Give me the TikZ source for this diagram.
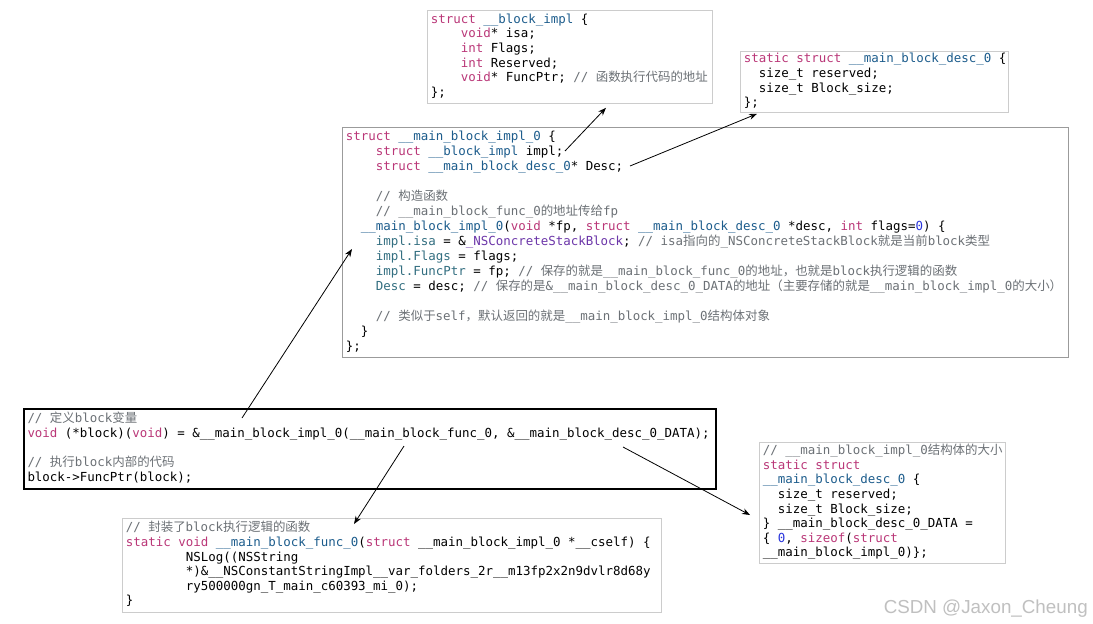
\documentclass[tikz,border=0pt]{standalone}
\usepackage{fontspec}
\usetikzlibrary{arrows.meta}
\newfontfamily\codefont{DejaVu Sans Mono}
\newfontfamily\zhfont{Noto Sans CJK SC}
\newfontfamily\markfont{Liberation Sans}
\definecolor{kwdpink}{RGB}{186,55,120}
\definecolor{typblue}{RGB}{28,92,140}
\definecolor{cmtgray}{RGB}{108,113,118}
\definecolor{mbrteal}{RGB}{50,110,128}
\definecolor{clspurple}{RGB}{108,54,169}
\definecolor{nmbblue}{RGB}{40,52,220}
\definecolor{boxgray}{RGB}{204,204,204}
\definecolor{mainborder}{RGB}{155,155,155}
\definecolor{markgray}{RGB}{192,192,192}
\newcommand\kwd[1]{\textcolor{kwdpink}{#1}}
\newcommand\typ[1]{\textcolor{typblue}{#1}}
\newcommand\cmt[1]{\textcolor{cmtgray}{#1}}
\newcommand\mbr[1]{\textcolor{mbrteal}{#1}}
\newcommand\cls[1]{\textcolor{clspurple}{#1}}
\newcommand\nmb[1]{\textcolor{nmbblue}{#1}}
\newcommand\zh[1]{\smash{\zhfont #1}}
\newcommand\twosp{\hphantom{xx}}
\newcommand\foursp{\hphantom{xxxx}}
\newcommand\eightsp{\hphantom{xxxxxxxx}}
\newcommand\codesize[1]{\codefont\fontsize{12.45}{#1}\selectfont}
\newcommand\monosp{\frenchspacing\spaceskip=7.496pt\xspaceskip=7.496pt\relax}

\tikzset{arrow/.style={-{Stealth[length=8pt,width=6pt]}, line width=0.8pt, draw=black},
  codebox/.style={draw=boxgray, line width=0.8pt, anchor=north west, inner xsep=3.5pt, inner ysep=0pt, align=left, font=\codesize{14.6}}}

\begin{document}
\begin{tikzpicture}[x=1pt, y=-1pt]
            \useasboundingbox[fill=white] (0,0) rectangle (1093,624);
            \node[codebox, text width=278pt, minimum height=93pt] (blockimpl) at (427,10) {\monosp\begin{tabular}{@{}l@{}}
              \kwd{struct} \typ{\_\_block\_impl} \{\\
              \foursp\kwd{void}* isa;\\
              \foursp\kwd{int} Flags;\\
              \foursp\kwd{int} Reserved;\\
              \foursp\kwd{void}* FuncPtr; \cmt{// \zh{函数执行代码的地址}}\\
              \};
            \end{tabular}};
            \node[codebox, text width=261pt, minimum height=61pt] (desc) at (740,51) {\monosp\begin{tabular}{@{}l@{}}
              \kwd{static} \kwd{struct} \typ{\_\_main\_block\_desc\_0} \{\\
              \twosp size\_t reserved;\\
              \twosp size\_t Block\_size;\\
              \};
            \end{tabular}};
            \node[codebox, draw=mainborder, text width=719pt, minimum height=230pt, font=\codesize{15}] (implzero) at (342,127) {\monosp\begin{tabular}{@{}l@{}}
              \kwd{struct} \typ{\_\_main\_block\_impl\_0} \{\\
              \foursp\kwd{struct} \typ{\_\_block\_impl} impl;\\
              \foursp\kwd{struct} \typ{\_\_main\_block\_desc\_0}* Desc;\\
              \\
              \foursp\cmt{// \zh{构造函数}}\\
              \foursp\cmt{// \_\_main\_block\_func\_0\zh{的地址传给}fp}\\
              \twosp\typ{\_\_main\_block\_impl\_0}(\kwd{void} *fp, \kwd{struct} \typ{\_\_main\_block\_desc\_0} *desc, \kwd{int} flags=\nmb{0}) \{\\
              \foursp\mbr{impl.isa} = \&\cls{\_NSConcreteStackBlock}; \cmt{// isa\zh{指向的}\_NSConcreteStackBlock\zh{就是当前}block\zh{类型}}\\
              \foursp\mbr{impl.Flags} = flags;\\
              \foursp\mbr{impl.FuncPtr} = fp; \cmt{// \zh{保存的就是}\_\_main\_block\_func\_0\zh{的地址，也就是}block\zh{执行逻辑的函数}}\\
              \foursp\mbr{Desc} = desc; \cmt{// \zh{保存的是}\&\_\_main\_block\_desc\_0\_DATA\zh{的地址（主要存储的就是}\_\_main\_block\_impl\_0\zh{的大小）}}\\
              \\
              \foursp\cmt{// \zh{类似于}self\zh{，默认返回的就是}\_\_main\_block\_impl\_0\zh{结构体对象}}\\
              \twosp\}\\
              \};
            \end{tabular}};
            \node[codebox, draw=black, line width=2pt, text width=685pt, minimum height=80pt] (caller) at (23,408) {\monosp\begin{tabular}{@{}l@{}}
              \cmt{// \zh{定义}block\zh{变量}}\\
              \kwd{void} (*block)(\kwd{void}) = \&\_\_main\_block\_impl\_0(\_\_main\_block\_func\_0, \&\_\_main\_block\_desc\_0\_DATA);\\
              \\
              \cmt{// \zh{执行}block\zh{内部的代码}}\\
              block->FuncPtr(block);
            \end{tabular}};
            \node[codebox, text width=532pt, minimum height=94pt] (funczero) at (122,518) {\monosp\begin{tabular}{@{}l@{}}
              \cmt{// \zh{封装了}block\zh{执行逻辑的函数}}\\
              \kwd{static} \kwd{void} \typ{\_\_main\_block\_func\_0}(\kwd{struct} \_\_main\_block\_impl\_0 *\_\_cself) \{\\
              \eightsp NSLog((NSString\\
              \eightsp *)\&\_\_NSConstantStringImpl\_\_var\_folders\_2r\_\_m13fp2x2n9dvlr8d68y\\
              \eightsp ry500000gn\_T\_main\_c60393\_mi\_0);\\
              \}
            \end{tabular}};
            \node[codebox, text width=239pt, minimum height=121pt] (descdata) at (759,442) {\monosp\begin{tabular}{@{}l@{}}
              \cmt{// \_\_main\_block\_impl\_0\zh{结构体的大小}}\\
              \kwd{static} \kwd{struct}\\
              \typ{\_\_main\_block\_desc\_0} \{\\
              \twosp size\_t reserved;\\
              \twosp size\_t Block\_size;\\
              \} \_\_main\_block\_desc\_0\_DATA =\\
              \{ \nmb{0}, \kwd{sizeof}(\kwd{struct}\\
              \_\_main\_block\_impl\_0)\};
            \end{tabular}};
            \node[font=\markfont\fontsize{18.8}{20}\selectfont, text=markgray, anchor=base east, inner sep=0pt] (mark) at (1088,613) {CSDN @Jaxon\_Cheung};
            \draw[arrow] ([xshift=219pt,yshift=-10pt]caller.north west) -- ([xshift=10pt,yshift=-122pt]implzero.north west);
            \draw[arrow] ([xshift=223pt,yshift=-24pt]implzero.north west) -- ([xshift=179pt,yshift=-4pt]blockimpl.south west);
            \draw[arrow] ([xshift=288pt,yshift=-39pt]implzero.north west) -- ([xshift=17pt,yshift=-1pt]desc.south west);
            \draw[arrow] ([xshift=381pt,yshift=-38pt]caller.north west) -- ([xshift=232pt,yshift=-6pt]funczero.north west);
            \draw[arrow] ([xshift=600pt,yshift=-39pt]caller.north west) -- ([xshift=-9pt,yshift=-73pt]descdata.north west);
        \end{tikzpicture}
\end{document}
